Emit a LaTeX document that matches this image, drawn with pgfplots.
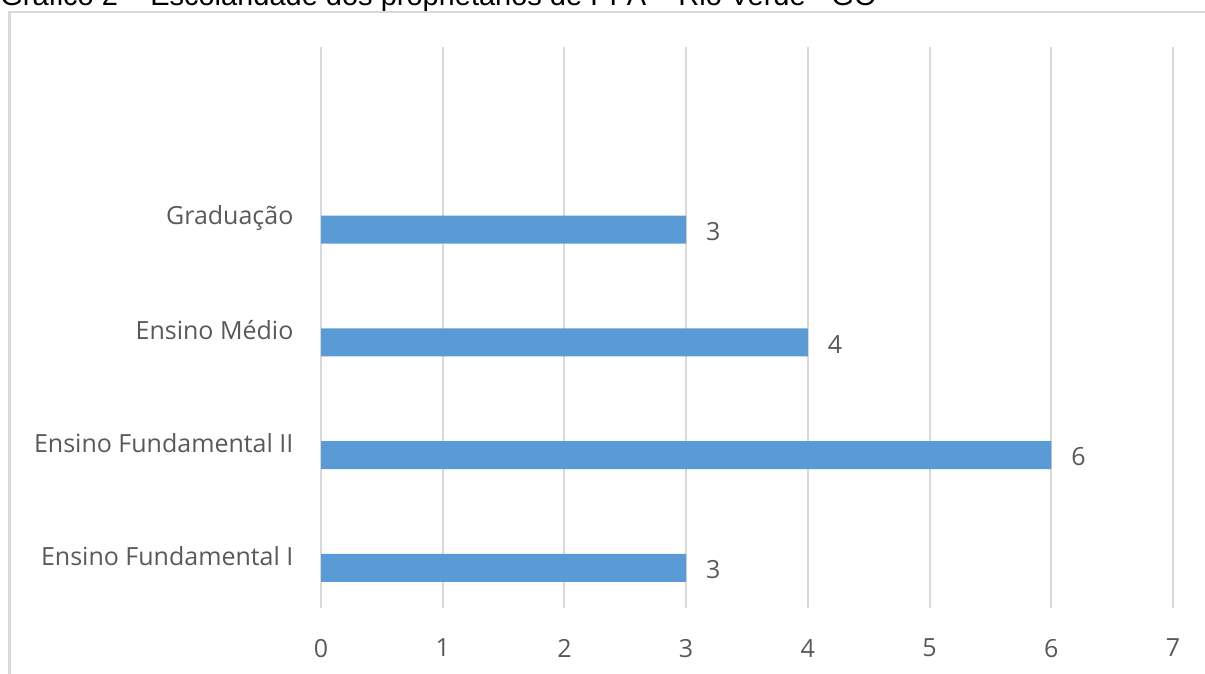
\documentclass[border=0pt]{standalone}
\usepackage{pgfplots}
\pgfplotsset{compat=1.18}
\usepackage{fontspec}
\setmainfont{Open Sans}
\newfontfamily\titlefont{Liberation Sans}
\definecolor{barblue}{HTML}{5B9BD5}
\definecolor{txtgray}{HTML}{595959}
\definecolor{gridgray}{HTML}{D9D9D9}
\begin{document}
\begin{tikzpicture}
\useasboundingbox (0,0) rectangle (602.5pt,337pt);
\clip (0,0) rectangle (602.5pt,337pt);
\draw[overlay, gridgray, line width=1.2pt] (4.8pt,-10pt) -- (4.8pt,331pt) -- (620pt,331pt);
\node[overlay, anchor=base west, inner sep=0pt, font=\titlefont\fontsize{14.5pt}{16pt}\selectfont] at (0pt,334.3pt)
  {Gráfico 2 – Escolaridade dos proprietários de PPA – Rio Verde - GO};
\begin{axis}[
  at={(160.5pt,33pt)}, anchor=south west,
  scale only axis, width=426pt, height=280.5pt,
  xbar, bar width=14pt,
  xmin=0, xmax=7, ymin=-0.355, ymax=4.62,
  xtick={0,1,...,7},
  ytick={0,1,2,3},
  yticklabels={Ensino Fundamental I, Ensino Fundamental II, Ensino Médio, Graduação},
  axis line style={draw=none},
  tick style={draw=none},
  xmajorgrids, grid style={gridgray, line width=1pt},
  ticklabel style={font=\fontsize{12.5pt}{14pt}\selectfont, text=txtgray},
  /pgf/number format/assume math mode=true,
  xticklabel style={yshift=-12pt},
  yticklabel style={anchor=east, xshift=-6pt, yshift=6pt},
  nodes near coords,
  every node near coord/.append style={anchor=west, xshift=6.5pt, yshift=-0.8pt, font=\fontsize{12.5pt}{14pt}\selectfont, text=txtgray},
]
\addplot[fill=barblue, draw=none] coordinates {(3,0) (6,1) (4,2) (3,3)};
\end{axis}
\end{tikzpicture}
\end{document}
